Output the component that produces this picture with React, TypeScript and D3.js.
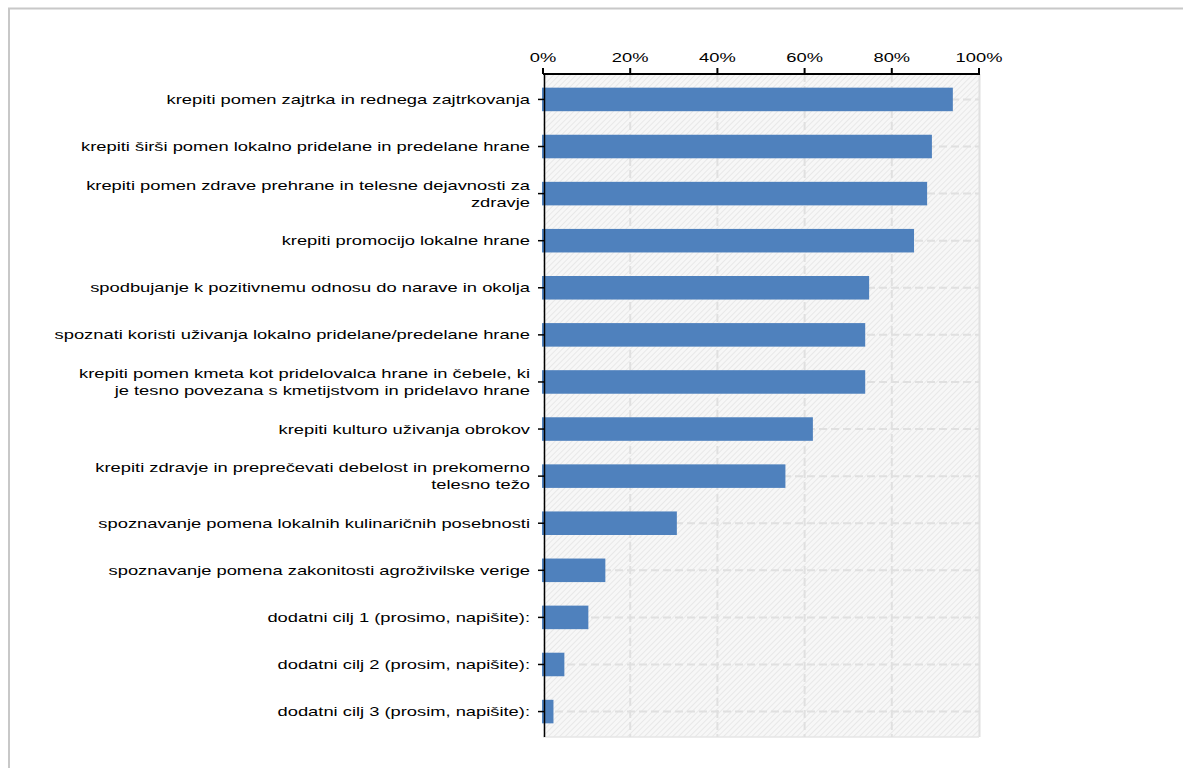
import React, { useEffect } from "react";
import * as d3 from "d3";

const categories: string[] = [
  "krepiti pomen zajtrka in rednega zajtrkovanja",
  "krepiti širši pomen lokalno pridelane in predelane hrane",
  "krepiti pomen zdrave prehrane in telesne dejavnosti za\nzdravje",
  "krepiti promocijo lokalne hrane",
  "spodbujanje k pozitivnemu odnosu do narave in okolja",
  "spoznati koristi uživanja lokalno pridelane/predelane hrane",
  "krepiti pomen kmeta kot pridelovalca hrane in čebele, ki\nje tesno povezana s kmetijstvom in pridelavo hrane",
  "krepiti kulturo uživanja obrokov",
  "krepiti zdravje in preprečevati debelost in prekomerno\ntelesno težo",
  "spoznavanje pomena lokalnih kulinaričnih posebnosti",
  "spoznavanje pomena zakonitosti agroživilske verige",
  "dodatni cilj 1 (prosimo, napišite):",
  "dodatni cilj 2 (prosim, napišite):",
  "dodatni cilj 3 (prosim, napišite):",
];

const values: number[] = [
  0.94, 0.892, 0.881, 0.851, 0.748, 0.739, 0.739, 0.619, 0.556, 0.307, 0.143,
  0.104, 0.049, 0.024,
];

const tickValues: number[] = [0, 0.2, 0.4, 0.6, 0.8, 1.0];
const tickLabels: string[] = ["0%", "20%", "40%", "60%", "80%", "100%"];

const W = 1183;
const H = 768;
const SX = 1.41;
const FONT = "'Liberation Sans', Arial, sans-serif";

export default function App() {
  useEffect(() => {
    document.body.style.margin = "0";
  }, []);

  const x = d3.scaleLinear().domain([0, 1]).range([543, 979]);
  const y = d3
    .scaleBand<string>()
    .domain(categories)
    .range([74, 737])
    .paddingInner(0.5)
    .paddingOuter(0.29);

  const plotTop = 74;
  const plotBottom = 737;
  const bw = y.bandwidth();

  return (
    <svg width={W} height={H} style={{ display: "block" }}>
      <defs>
        <pattern
          id="hatch"
          width="4"
          height="4"
          patternUnits="userSpaceOnUse"
          patternTransform="rotate(45)"
        >
          <rect width="4" height="4" fill="#f7f7f7" />
          <line x1="0" y1="0" x2="0" y2="4" stroke="#e8e8e8" strokeWidth="2" />
        </pattern>
      </defs>
      <rect width={W} height={H} fill="#ffffff" />
      <rect
        x={9}
        y={8.5}
        width={1300}
        height={900}
        fill="none"
        stroke="#c8c8c8"
        strokeWidth={2}
      />
      {/* plot background */}
      <rect
        x={x(0)}
        y={plotTop}
        width={x(1) - x(0)}
        height={plotBottom - plotTop}
        fill="url(#hatch)"
      />
      <line
        x1={x(1) + 0.5}
        x2={x(1) + 0.5}
        y1={plotTop}
        y2={plotBottom}
        stroke="#e0e0e0"
        strokeWidth={2}
      />
      <line
        x1={x(0)}
        x2={x(1)}
        y1={plotBottom}
        y2={plotBottom}
        stroke="#e6e6e6"
        strokeWidth={1.5}
      />
      {/* vertical gridlines */}
      {tickValues.slice(1, -1).map((t) => (
        <line
          key={"vg" + t}
          x1={x(t)}
          x2={x(t)}
          y1={plotTop}
          y2={plotBottom}
          stroke="#e0e0e0"
          strokeWidth={2}
          strokeDasharray="8,4"
        />
      ))}
      {/* horizontal gridlines */}
      {categories.map((c) => (
        <line
          key={"hg" + c}
          x1={x(0)}
          x2={x(1)}
          y1={(y(c) as number) + bw / 2}
          y2={(y(c) as number) + bw / 2}
          stroke="#e0e0e0"
          strokeWidth={2}
          strokeDasharray="8,4"
        />
      ))}
      {/* bars */}
      {categories.map((c, i) => (
        <rect
          key={"b" + c}
          x={x(0) - 1}
          y={y(c) as number}
          width={x(values[i]) - x(0) + 1}
          height={bw}
          fill="#4f81bd"
        />
      ))}
      {/* y axis */}
      <line
        x1={544.5}
        x2={544.5}
        y1={plotTop}
        y2={plotBottom}
        stroke="#000"
        strokeWidth={1.5}
      />
      {categories.map((c) => (
        <line
          key={"yt" + c}
          x1={538}
          x2={544}
          y1={(y(c) as number) + bw / 2}
          y2={(y(c) as number) + bw / 2}
          stroke="#000"
          strokeWidth={1.5}
        />
      ))}
      {/* top axis */}
      <line
        x1={x(0)}
        x2={x(1) + 1}
        y1={plotTop}
        y2={plotTop}
        stroke="#000"
        strokeWidth={2}
      />
      {tickValues.map((t, i) => (
        <g key={"xt" + t}>
          <line
            x1={x(t)}
            x2={x(t)}
            y1={plotTop - 6}
            y2={plotTop}
            stroke="#000"
            strokeWidth={2}
          />
          <text
            transform={`translate(${x(t)},${plotTop - 12}) scale(${SX},1)`}
            textAnchor="middle"
            fontFamily={FONT}
            fontSize={13}
            fill="#000"
          >
            {tickLabels[i]}
          </text>
        </g>
      ))}
      {/* category labels */}
      {categories.map((c) => {
        const lines = c.split("\n");
        const cy = (y(c) as number) + bw / 2;
        const lh = 17;
        const y0 = cy - ((lines.length - 1) * lh) / 2 + 4.5;
        return (
          <g key={"lbl" + c}>
            {lines.map((ln, k) => (
              <text
                key={k}
                transform={`translate(530,${y0 + k * lh}) scale(${SX},1)`}
                textAnchor="end"
                fontFamily={FONT}
                fontSize={13}
                fill="#000"
              >
                {ln}
              </text>
            ))}
          </g>
        );
      })}
    </svg>
  );
}
